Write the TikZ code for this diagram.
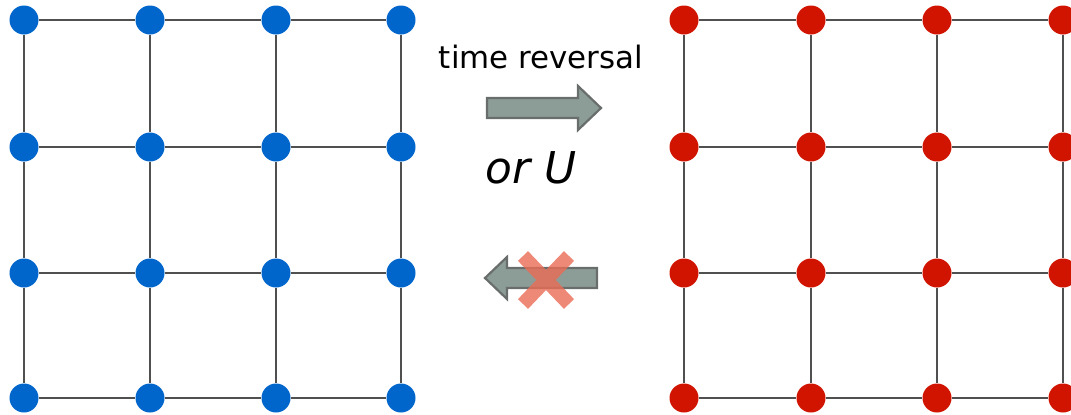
\documentclass[tikz,border=0pt]{standalone}
\usepackage{fontspec}
\setmainfont{DejaVu Sans}
\usetikzlibrary{positioning}

\definecolor{dotblue}{RGB}{0,102,204}
\definecolor{dotred}{RGB}{208,20,0}
\definecolor{arrowfill}{RGB}{140,156,150}
\definecolor{arrowline}{RGB}{105,110,108}
\definecolor{crossred}{RGB}{234,108,86}
\definecolor{gridline}{RGB}{80,80,80}

\begin{document}
\begin{tikzpicture}[x=1bp,y=-1bp,
  site/.style={circle,inner sep=0pt,minimum size=29bp},
  bluesite/.style={site,fill=dotblue},
  redsite/.style={site,fill=dotred},
  bond/.style={draw=gridline,line width=1.4bp},
  blockarr/.style={fill=arrowfill,draw=arrowline,line width=2.2bp,line join=miter},
  cross/.style={draw=crossred,line width=14bp,opacity=0.8},
  lbl/.style={inner sep=0pt,anchor=base}
]
  \useasboundingbox (0,0) rectangle (1071,414);
  \clip (0,0) rectangle (1071,414);

  % lattice before time reversal
  \foreach \i/\x in {1/24,2/150,3/276,4/401}
    \foreach \j/\y in {1/20,2/147,3/273,4/398}
      \node[bluesite] (b\i\j) at (\x,\y) {};
  % lattice after
  \foreach \i/\x in {1/684,2/811,3/937,4/1063}
    \foreach \j/\y in {1/20,2/147,3/273,4/398}
      \node[redsite] (r\i\j) at (\x,\y) {};

  \foreach \i/\k in {1/2,2/3,3/4}
    \foreach \j in {1,...,4} {
      \draw[bond] (b\i\j) -- (b\k\j); \draw[bond] (b\j\i) -- (b\j\k);
      \draw[bond] (r\i\j) -- (r\k\j); \draw[bond] (r\j\i) -- (r\j\k);
    }

  \node[lbl,font=\fontsize{31}{36}\selectfont] (trev) at (541,68) {time reversal};
  \node[lbl,font=\fontsize{44}{50}\selectfont\itshape] (oru) at (531,183) {or U};

  % forward arrow
  \coordinate (fwd) at (487,108);
  \draw[blockarr] (fwd) ++(0,-10) -- ++(91,0) -- ++(0,-12) -- ++(23,22)
    -- ++(-23,22) -- ++(0,-12) -- ++(-91,0) -- cycle;

  % backward arrow, crossed out
  \coordinate (bwd) at (597,278);
  \draw[blockarr] (bwd) ++(0,-10) -- ++(-90,0) -- ++(0,-11) -- ++(-22,21)
    -- ++(22,21) -- ++(0,-11) -- ++(90,0) -- cycle;
  \coordinate (nope) at (546,280);
  \draw[cross] (nope) +(-23,-24) -- +(23,24) (nope) +(-23,24) -- +(23,-24);
\end{tikzpicture}
\end{document}
